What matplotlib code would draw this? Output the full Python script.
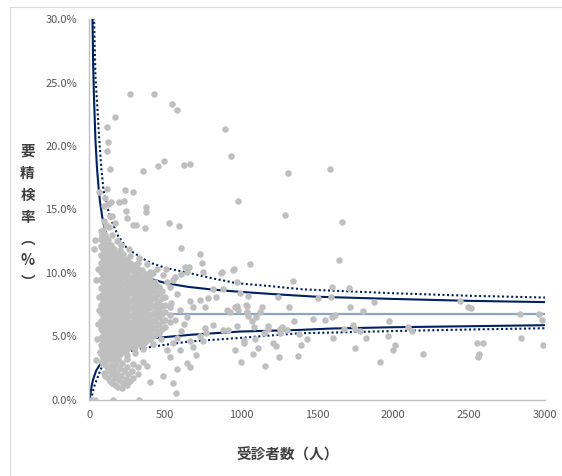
import numpy as np
import matplotlib.pyplot as plt
from matplotlib.ticker import FuncFormatter, MultipleLocator
from matplotlib.lines import Line2D

plt.rcParams['font.family'] = ['Noto Sans CJK JP', 'DejaVu Sans']

# control limits (n, %)
upper95_n = [20, 25, 30, 40, 50, 60, 70, 85, 100, 130, 160, 200, 250, 300, 400, 500,
             650, 800, 1000, 1250, 1500, 2000, 2500, 3000]
upper95 = [30.5, 26.5, 24.0, 20.5, 18.3, 16.8, 15.6, 14.4, 13.5, 12.4, 11.6, 10.9, 10.4,
           10.0, 9.55, 9.2, 8.9, 8.7, 8.5, 8.3, 8.12, 7.95, 7.8, 7.7]
upper99_n = [30, 40, 54, 65, 80, 93, 135, 190, 250, 330, 400, 500, 660, 800, 970,
             1200, 1400, 1600, 2000, 2500, 3000]
upper99 = [30.5, 25.5, 22.8, 20.5, 18.1, 16.5, 14.4, 12.9, 11.9, 11.3, 10.8, 10.4, 9.98,
           9.6, 9.19, 8.95, 8.71, 8.6, 8.4, 8.2, 8.06]
lower95_n = [0, 5, 15, 27, 45, 60, 80, 104, 150, 200, 300, 420, 660, 990, 1385, 1600,
             2000, 2500, 3000]
lower95 = [0.0, 0.3, 1.1, 1.7, 2.3, 2.6, 2.95, 3.2, 3.6, 3.95, 4.45, 4.86, 5.12, 5.38,
           5.51, 5.62, 5.72, 5.8, 5.88]
lower99_n = [8, 16, 30, 49, 65, 82, 115, 150, 200, 300, 420, 660, 970, 1385, 1600,
             2000, 2500, 3000]
lower99 = [0.0, 0.3, 1.0, 1.6, 2.1, 2.6, 3.0, 3.3, 3.6, 3.95, 4.2, 4.6, 4.86, 5.25, 5.3,
           5.42, 5.54, 5.64]
mean_n = [75, 3000]
mean_pct = [6.77, 6.77]

# dense cloud of facilities, one list of rates per column of n
cluster_n = [75, 90, 105, 120, 140, 160, 180, 200, 220, 245, 270, 295, 320, 345, 370,
             400, 430, 460, 495, 530]
cluster_pct = [
    [3.6, 4.3, 4.9, 5.6, 6.2, 6.9, 7.5, 8.2, 8.8, 9.5, 10.1, 10.8, 11.4, 12.1, 12.7, 13.3],
    [3.3, 3.9, 4.5, 5.1, 5.8, 6.4, 7.1, 7.7, 8.3, 9.0, 9.6, 10.3, 10.9, 11.5, 12.2, 12.8, 13.4],
    [3.6, 4.2, 4.8, 5.4, 6.1, 6.7, 7.3, 8.0, 8.6, 9.2, 9.9, 10.5, 11.1, 11.8, 12.4, 13.0],
    [3.4, 4.0, 4.6, 5.2, 5.8, 6.4, 7.0, 7.6, 8.2, 8.9, 9.5, 10.1, 10.8, 11.4, 12.0, 12.6],
    [3.7, 4.3, 4.9, 5.5, 6.1, 6.7, 7.3, 7.9, 8.5, 9.1, 9.8, 10.4, 11.0, 11.6, 12.2],
    [3.5, 4.0, 4.6, 5.2, 5.8, 6.4, 7.0, 7.6, 8.2, 8.8, 9.4, 10.0, 10.6, 11.2, 11.9],
    [3.8, 4.3, 4.9, 5.5, 6.1, 6.7, 7.3, 7.9, 8.5, 9.1, 9.7, 10.3, 10.9, 11.5],
    [3.6, 4.1, 4.7, 5.3, 5.9, 6.5, 7.1, 7.7, 8.3, 8.9, 9.5, 10.1, 10.7, 11.3, 11.8],
    [3.9, 4.4, 5.0, 5.6, 6.2, 6.8, 7.4, 8.0, 8.6, 9.2, 9.8, 10.4, 11.0, 11.5],
    [4.0, 4.6, 5.2, 5.7, 6.3, 6.9, 7.5, 8.1, 8.7, 9.3, 9.9, 10.5, 11.1],
    [4.2, 4.8, 5.4, 6.0, 6.6, 7.2, 7.8, 8.4, 9.0, 9.6, 10.2, 10.8, 11.3],
    [4.1, 4.6, 5.2, 5.8, 6.4, 7.0, 7.6, 8.2, 8.8, 9.4, 10.0, 10.6],
    [4.4, 4.9, 5.5, 6.1, 6.7, 7.3, 7.9, 8.5, 9.1, 9.7, 10.3, 10.8],
    [4.3, 4.8, 5.4, 6.0, 6.6, 7.2, 7.8, 8.4, 9.0, 9.6, 10.2],
    [4.6, 5.1, 5.7, 6.3, 6.9, 7.5, 8.1, 8.7, 9.3, 9.9],
    [4.8, 5.4, 6.0, 6.6, 7.2, 7.8, 8.4, 9.0, 9.6, 10.1],
    [5.1, 5.7, 6.3, 6.9, 7.5, 8.1, 8.7, 9.3],
    [5.3, 5.9, 6.5, 7.1, 7.7, 8.3, 8.9],
    [5.7, 6.3, 6.9, 7.5, 8.1],
    [6.1, 6.7, 7.3],
]
# second, staggered set of columns in the same cloud
cluster2_n = [82, 97, 112, 130, 150, 170, 190, 210, 232, 257, 282, 307, 332, 357, 385,
              415, 445, 478]
cluster2_pct = [
    [3.0, 3.6, 4.2, 4.9, 5.5, 6.2, 6.8, 7.5, 8.1, 8.8, 9.4, 10.1, 10.7, 11.3, 12.0, 12.6, 13.2],
    [3.6, 4.2, 4.8, 5.5, 6.1, 6.7, 7.4, 8.0, 8.6, 9.3, 9.9, 10.6, 11.2, 11.8, 12.5, 13.1],
    [3.3, 3.9, 4.5, 5.1, 5.7, 6.4, 7.0, 7.6, 8.3, 8.9, 9.5, 10.2, 10.8, 11.4, 12.1, 12.7],
    [3.5, 4.1, 4.7, 5.3, 5.9, 6.5, 7.1, 7.7, 8.3, 8.9, 9.6, 10.2, 10.8, 11.4, 12.0],
    [3.8, 4.4, 5.0, 5.6, 6.2, 6.8, 7.4, 8.0, 8.6, 9.2, 9.8, 10.4, 11.0, 11.6],
    [3.6, 4.2, 4.7, 5.3, 5.9, 6.5, 7.1, 7.7, 8.3, 8.9, 9.5, 10.1, 10.7, 11.3],
    [3.9, 4.5, 5.1, 5.7, 6.3, 6.9, 7.5, 8.1, 8.7, 9.3, 9.9, 10.5, 11.1],
    [4.0, 4.6, 5.2, 5.8, 6.4, 7.0, 7.6, 8.2, 8.8, 9.4, 10.0, 10.6, 11.2],
    [3.8, 4.3, 4.9, 5.5, 6.1, 6.7, 7.3, 7.9, 8.5, 9.1, 9.7, 10.3, 10.8],
    [4.2, 4.8, 5.4, 6.0, 6.6, 7.2, 7.8, 8.4, 9.0, 9.6, 10.2, 10.8],
    [4.4, 5.0, 5.5, 6.1, 6.7, 7.3, 7.9, 8.5, 9.1, 9.7, 10.3],
    [4.3, 4.9, 5.5, 6.1, 6.7, 7.3, 7.9, 8.5, 9.1, 9.7, 10.3],
    [4.6, 5.2, 5.8, 6.4, 7.0, 7.6, 8.2, 8.8, 9.4, 10.0],
    [4.5, 5.1, 5.7, 6.3, 6.9, 7.5, 8.1, 8.7, 9.3, 9.8],
    [4.9, 5.4, 6.0, 6.6, 7.2, 7.8, 8.4, 9.0, 9.5],
    [5.0, 5.6, 6.2, 6.8, 7.4, 8.0, 8.6, 9.2],
    [5.4, 6.0, 6.6, 7.2, 7.8, 8.4, 9.0],
    [5.6, 6.2, 6.8, 7.4, 8.0, 8.6],
]

# low count bands under the cloud
band_n = [95, 105, 120, 135, 150, 170, 190, 215,
          100, 115, 130, 150, 170, 195, 220, 250,
          110, 125, 145, 165, 185, 210, 240, 270,
          135, 155, 175, 200, 225, 255, 290,
          190, 215, 245, 280, 320, 250, 285, 320, 350, 380]
band_pct = [2.1, 1.9, 1.7, 1.5, 1.35, 1.2, 1.05, 0.95,
            3.0, 2.6, 2.3, 2.0, 1.75, 1.55, 1.35, 1.2,
            3.6, 3.2, 2.75, 2.4, 2.15, 1.9, 1.65, 1.5,
            3.7, 3.2, 2.85, 2.5, 2.25, 2.0, 1.75,
            3.2, 2.9, 2.55, 2.25, 2.0, 3.2, 2.85, 2.55, 3.0, 2.7]

# scattered facilities
other_n = [270, 425, 545, 575, 170, 115, 890, 125, 115, 930, 490, 450, 620, 665, 135, 350,
           1305, 1585, 115, 65, 235, 290, 105, 145, 195, 225, 125, 95, 370, 980, 370, 240,
           135, 150, 245, 1285, 170, 285, 305, 525, 590, 365, 1660, 130,
           1645, 1340, 1600, 1710,
           1045, 1030, 1040, 1240, 1505, 1590, 1315, 1125, 1040, 1045, 1095, 1715, 1800, 1875,
           2440, 2495, 2510, 1350, 1470, 1550, 1600, 1615, 1975, 2835, 2960, 2980, 1085, 1175,
           1150, 1255, 1270, 1300, 1380, 1735, 1750, 1780, 1675, 2095, 2125, 1015, 1020, 1090,
           1210, 1230, 1110, 1080, 1245, 1390, 1430, 1375, 1605, 1820, 1750, 1965, 2010, 2000,
           2195, 1910, 1155, 1000, 2550, 2590, 2555, 2565, 2840, 2985,
           1060, 950, 865, 740, 725, 600, 630, 655, 640, 565, 605, 445, 505, 750, 870, 945,
           970, 880, 815, 835, 780, 725, 760, 660, 685, 905, 925, 960, 970, 880, 915, 815,
           760, 770, 725, 750, 660, 685, 705, 640, 660, 960, 575, 485, 550, 570, 990, 1135,
           970, 980, 1035, 1070, 1175, 1270, 1255, 575, 595, 565, 620, 640, 605, 575, 550,
           595, 530, 510, 540, 530, 510, 485, 550,
           15, 35, 155, 330, 400,
           30, 45, 35, 70, 45, 65, 65, 80, 55, 60, 50,
           95, 110, 85, 150, 180, 210, 260, 330, 380, 420,
           90, 130, 170, 250, 300, 350, 420, 470]
other_pct = [24.1, 24.1, 23.3, 22.8, 22.3, 21.5, 21.3, 20.3, 19.6, 19.2, 18.8, 18.4, 18.5,
             18.6, 18.2, 18.0, 17.9, 18.2, 16.6, 16.4, 16.5, 16.4, 15.9, 15.6, 15.6, 15.7,
             15.4, 15.3, 15.2, 15.7, 14.8, 14.9, 14.5, 14.5, 14.3, 14.6, 13.9, 13.8, 13.8,
             13.9, 13.7, 13.5, 14.0, 13.6,
             11.0, 9.4, 8.9, 8.8,
             8.2, 7.5, 7.4, 8.1, 8.0, 8.1, 7.3, 6.95, 6.95, 6.6, 6.5, 7.35, 7.0, 7.7,
             7.8, 7.35, 7.2, 6.2, 6.35, 6.3, 6.5, 6.7, 6.2, 6.75, 6.8, 6.3, 5.7, 5.55,
             5.25, 5.6, 5.75, 5.5, 5.2, 5.9, 5.6, 5.4, 5.6, 5.75, 5.4, 4.7, 4.45, 4.8,
             4.5, 4.25, 4.05, 3.65, 3.4, 4.3, 4.8, 3.45, 4.9, 4.9, 4.05, 5.0, 4.3, 3.95,
             3.6, 3.0, 2.7, 2.95, 4.5, 4.45, 3.4, 3.6, 4.85, 4.3,
             10.7, 10.3, 10.0, 10.8, 11.5, 12.0, 10.5, 10.5, 10.1, 9.7, 9.9, 10.3, 10.3, 10.1,
             10.1, 10.2, 9.3, 8.7, 8.7, 8.1, 8.0, 7.9, 7.35, 7.75, 7.35, 7.1, 6.95, 7.35, 5.8,
             5.5, 5.5, 5.9, 5.65, 5.25, 5.0, 4.6, 4.6, 4.2, 3.55, 2.9, 2.6, 3.95, 2.4, 1.85,
             1.3, 0.5, 8.45, 7.35, 7.4, 7.1, 6.95, 6.2, 5.8, 5.65, 5.25, 8.3, 7.1, 6.3, 6.0,
             6.55, 5.4, 4.85, 4.45, 3.95, 3.4, 3.95, 7.6, 8.9, 9.3, 9.85, 9.45,
             0.0, 0.0, 0.0, 0.0, 1.4,
             11.9, 9.45, 12.6, 3.8, 3.15, 8.1, 7.1, 5.8, 10.3, 6.0, 4.8,
             14.1, 13.8, 13.0, 13.0, 12.5, 12.2, 11.9, 11.2, 10.7, 10.0,
             2.8, 3.2, 3.1, 3.5, 3.7, 4.0, 4.4, 4.8]

xs = []
ys = []
for n, col in list(zip(cluster_n, cluster_pct)) + list(zip(cluster2_n, cluster2_pct)):
    xs += [n] * len(col)
    ys += col
xs += band_n + other_n
ys += band_pct + other_pct

fig = plt.figure(figsize=(5.62, 4.76), dpi=100)
ax = fig.add_axes([0.159, 0.160, 0.811, 0.800])

navy = '#002060'
ax.plot(mean_n, mean_pct, color='#8FA4C4', lw=1.6, zorder=2)
ax.plot(upper95_n, upper95, color=navy, lw=1.5, zorder=2)
ax.plot(lower95_n, lower95, color=navy, lw=1.5, zorder=2)
ax.plot(upper99_n, upper99, color=navy, lw=1.5, ls=(0, (1, 1.2)), zorder=2)
ax.plot(lower99_n, lower99, color=navy, lw=1.5, ls=(0, (1, 1.2)), zorder=2)
ax.scatter(xs, ys, s=22, color='#BFBFBF', linewidths=0, zorder=3)

ax.set_xlim(0, 3000)
ax.set_ylim(0, 30)
ax.xaxis.set_major_locator(MultipleLocator(500))
ax.yaxis.set_major_locator(MultipleLocator(5))
ax.yaxis.set_major_formatter(FuncFormatter(lambda v, p: f"{v:.1f}%"))
for s in ['top', 'right']:
    ax.spines[s].set_visible(False)
for s in ['left', 'bottom']:
    ax.spines[s].set_color('#BFBFBF')
    ax.spines[s].set_linewidth(1.0)
ax.tick_params(length=0, labelsize=8, colors='#595959')
ax.tick_params(axis='y', pad=9)
ax.tick_params(axis='x', pad=7)

fig.text(0.049, 0.545, '要\n精\n検\n率\n︵\n%\n︶', ha='center', va='center',
         fontsize=10.5, fontweight='bold', color='#404040', linespacing=1.45)
fig.text(0.512, 0.045, '受診者数（人）', ha='center', va='center',
         fontsize=10.5, fontweight='bold', color='#404040')

# chart area frame, only its left and top edges fall inside the picture
fig.lines.append(Line2D([10 / 562, 10 / 562, 1.0], [0.0, 1 - 7 / 476, 1 - 7 / 476],
                        transform=fig.transFigure, color='#D9D9D9', lw=0.8))

fig.savefig('out.png', dpi=100)
